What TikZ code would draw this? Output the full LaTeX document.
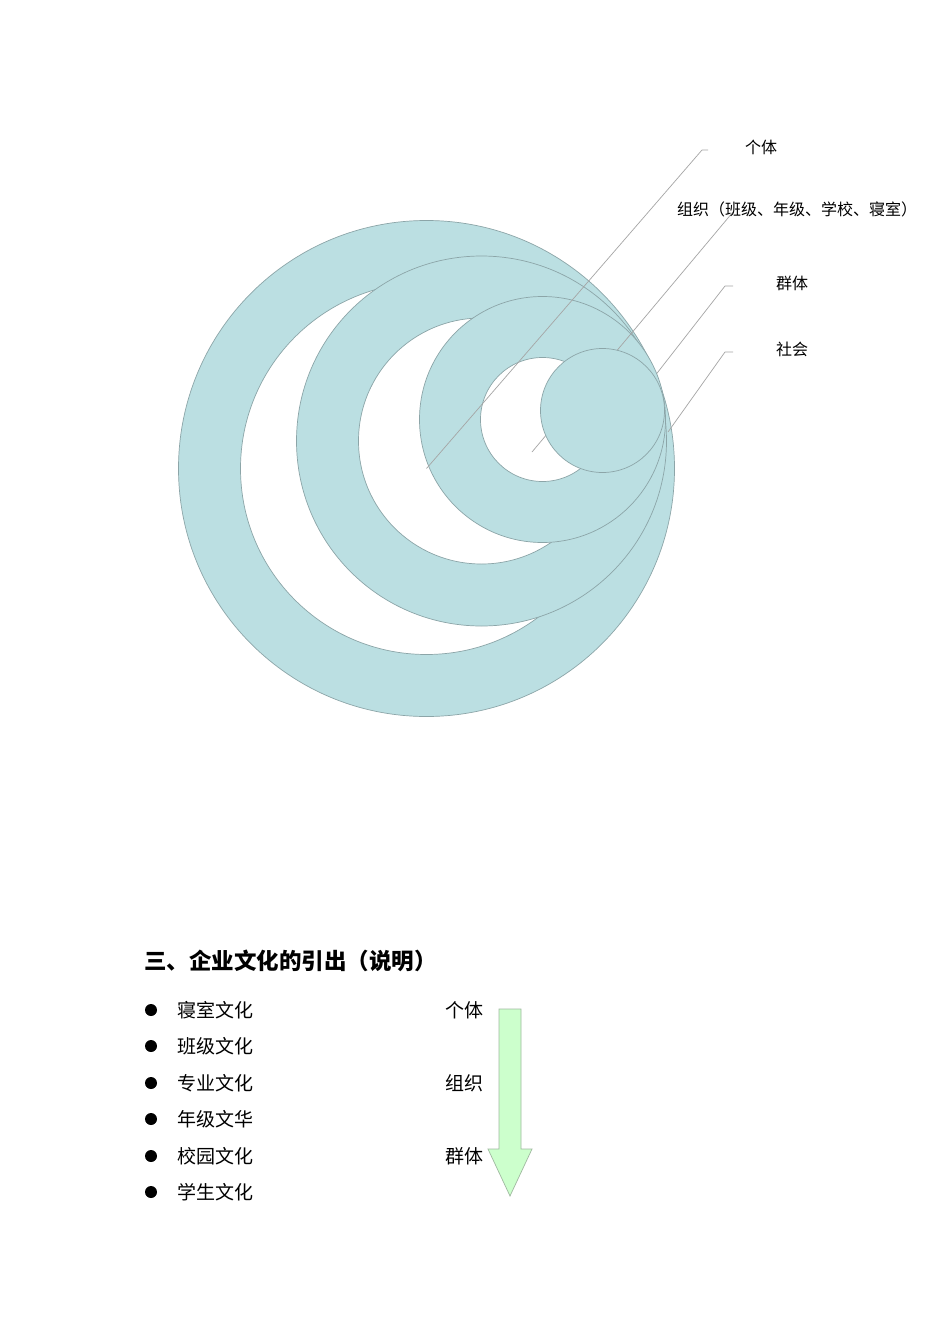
\documentclass[tikz,border=0pt]{standalone}
\usepackage{fontspec}
\setmainfont{Noto Sans CJK SC}
\tikzset{
  ringfill/.style={fill={rgb,255:red,187;green,223;blue,226}, draw={rgb,255:red,140;green,165;blue,168}, line width=0.7pt, even odd rule},
  callout/.style={draw={rgb,255:red,165;green,165;blue,165}, line width=0.7pt},
  toplabel/.style={anchor=west, inner sep=0pt, font=\fontsize{16}{16}\selectfont},
  itemlabel/.style={anchor=west, inner sep=0pt, font=\fontsize{19}{19}\selectfont},
  bulletdot/.style={fill=black, draw=none},
  arrowshape/.style={fill={rgb,255:red,204;green,255;blue,204}, draw={rgb,255:red,160;green,185;blue,160}, line width=0.7pt}
}
\begin{document}
\begin{tikzpicture}[x=1pt,y=-1pt]
\useasboundingbox (0,0) rectangle (950,1344);
\fill[white] (0,0) rectangle (950,1344);

% centres
\coordinate (c1) at (426.5,468.5);
\coordinate (c2) at (481.5,441);
\coordinate (c3) at (542.5,419.5);
\coordinate (c4) at (602.5,410.5);

% ring 1
\path[ringfill] (c1) circle (248pt) (c1) circle (186pt);
% callout 社会
\coordinate (sStart) at (668,432);
\coordinate (sElbow) at (725,352);
\coordinate (sEnd) at (733,352);
\draw[callout] (sStart) -- (sElbow) -- (sEnd);
% ring 2
\path[ringfill] (c2) circle (185pt) (c2) circle (123pt);
% callout 群体
\coordinate (qStart) at (640,395);
\coordinate (qElbow) at (725,286);
\coordinate (qEnd) at (733,286);
\draw[callout] (qStart) -- (qElbow) -- (qEnd);
% ring 3
\path[ringfill] (c3) circle (123pt) (c3) circle (62pt);
% callout 组织
\coordinate (zStart) at (532,452);
\coordinate (zEnd) at (733,212);
\draw[callout] (zStart) -- (zEnd);
% inner disk
\path[ringfill] (c4) circle (62pt);
% callout 个体
\coordinate (gElbow) at (702,150);
\coordinate (gEnd) at (708,150);
\draw[callout] (c1) -- (gElbow) -- (gEnd);

% top labels
\node[toplabel] (lGe) at (745,147) {个体};
\node[toplabel] (lZu) at (677,209) {组织（班级、年级、学校、寝室）};
\node[toplabel] (lQun) at (776,283) {群体};
\node[toplabel] (lShe) at (776,349) {社会};

% bottom section
\node[anchor=west, inner sep=0pt, font=\fontsize{22.5}{23}\selectfont\bfseries] (title) at (144,961) {三、企业文化的引出（说明）};

\fill[bulletdot] (151,1010) circle (6pt);
\fill[bulletdot] (151,1046) circle (6pt);
\fill[bulletdot] (151,1083) circle (6pt);
\fill[bulletdot] (151,1119) circle (6pt);
\fill[bulletdot] (151,1156) circle (6pt);
\fill[bulletdot] (151,1192) circle (6pt);

\node[itemlabel] (i1) at (177,1010) {寝室文化};
\node[itemlabel] (i2) at (177,1046) {班级文化};
\node[itemlabel] (i3) at (177,1083) {专业文化};
\node[itemlabel] (i4) at (177,1119) {年级文华};
\node[itemlabel] (i5) at (177,1156) {校园文化};
\node[itemlabel] (i6) at (177,1192) {学生文化};

\node[itemlabel] (r1) at (445,1010) {个体};
\node[itemlabel] (r2) at (445,1083) {组织};
\node[itemlabel] (r3) at (445,1156) {群体};

% down arrow
\path[arrowshape] (499,1009) -- (521,1009) -- (521,1149) -- (532,1149) -- (510,1196) -- (488,1149) -- (499,1149) -- cycle;
\end{tikzpicture}
\end{document}
